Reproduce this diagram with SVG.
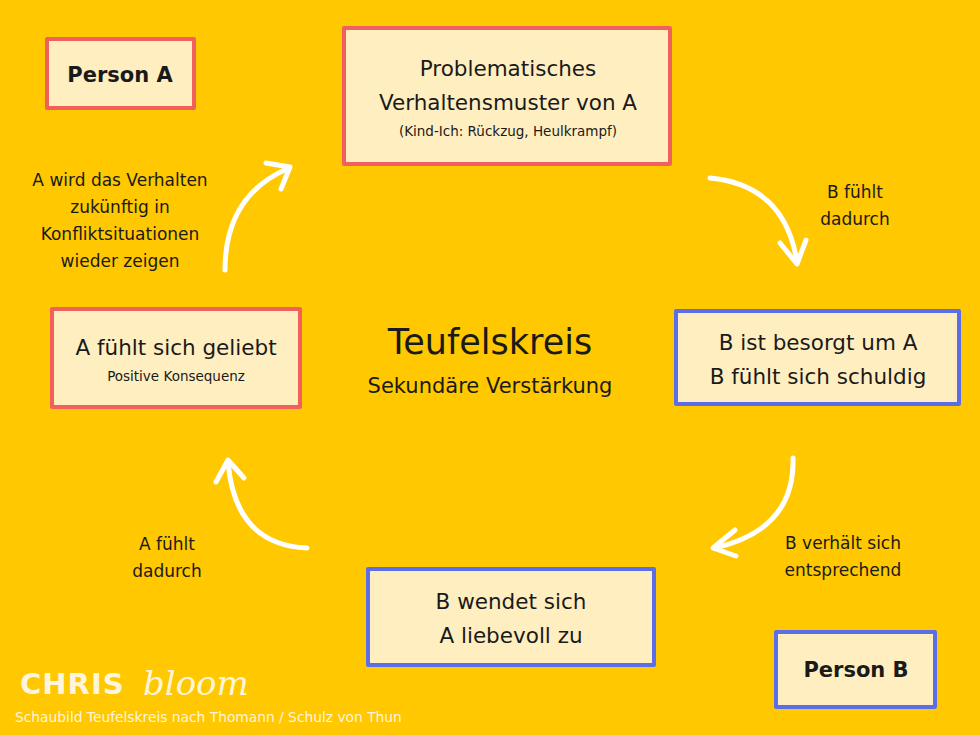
<svg xmlns="http://www.w3.org/2000/svg" width="980" height="735" viewBox="0 0 980 735">
<defs>
<style>
text{font-family:"DejaVu Sans","Liberation Sans",sans-serif;fill:#1a1a1a;text-anchor:middle}
.box{fill:#FFEEC0;stroke-width:4;stroke-linejoin:round}
.red{stroke:#F2605C}
.blue{stroke:#5B6EE8}
.t{font-size:21.5px}
.s{font-size:13.5px}
.l{font-size:17px}
.p{font-size:21px;font-weight:600}
.arr{fill:none;stroke:#fff;stroke-width:5;stroke-linecap:round;stroke-linejoin:round}
</style>
</defs>
<rect width="980" height="735" fill="#FFC800"/>
<g id="personA"><rect class="box red" x="47" y="39" width="147" height="69"/><text class="p" x="120" y="82">Person A</text></g>
<g id="problem"><rect class="box red" x="344" y="28" width="326" height="136"/><text class="t" x="508" y="76">Problematisches</text><text class="t" x="508" y="110">Verhaltensmuster von A</text><text class="s" x="508" y="136">(Kind-Ich: Rückzug, Heulkrampf)</text></g>
<g id="besorgt"><rect class="box blue" x="676" y="311" width="283" height="93"/><text class="t" x="818" y="350">B ist besorgt um A</text><text class="t" x="818" y="384">B fühlt sich schuldig</text></g>
<g id="geliebt"><rect class="box red" x="52" y="309" width="248" height="98"/><text class="t" x="176" y="355">A fühlt sich geliebt</text><text class="s" x="176" y="381">Positive Konsequenz</text></g>
<g id="wendet"><rect class="box blue" x="368" y="569" width="286" height="96"/><text class="t" x="511" y="609">B wendet sich</text><text class="t" x="511" y="643">A liebevoll zu</text></g>
<g id="personB"><rect class="box blue" x="776" y="632" width="159" height="75"/><text class="p" x="856" y="677">Person B</text></g>
<g id="center"><text x="490" y="354" style="font-size:35px">Teufelskreis</text><text x="490" y="393" style="font-size:21px">Sekundäre Verstärkung</text></g>
<g id="connectors">
<path class="arr" d="M710 178 Q785 185 797 262"/><path class="arr" d="M780 243 L797 264 L806 240"/>
<path class="arr" d="M793 458 Q795 530 714 548"/><path class="arr" d="M735 530 L713 548 L736 556"/>
<path class="arr" d="M307 548 Q235 545 228 462"/><path class="arr" d="M216 482 L228 460 L244 478"/>
<path class="arr" d="M225 270 Q225 195 289 168"/><path class="arr" d="M266 163 L290 167 L281 189"/>
</g>
<g id="labels">
<text class="l" x="855" y="198">B fühlt</text><text class="l" x="855" y="225">dadurch</text>
<text class="l" x="843" y="549">B verhält sich</text><text class="l" x="843" y="576">entsprechend</text>
<text class="l" x="167" y="550">A fühlt</text><text class="l" x="167" y="577">dadurch</text>
<text class="l" x="120" y="186">A wird das Verhalten</text><text class="l" x="120" y="213">zukünftig in</text><text class="l" x="120" y="240">Konfliktsituationen</text><text class="l" x="120" y="267">wieder zeigen</text>
</g>
<g id="logo"><text x="20" y="694" style="font-size:29px;font-weight:bold;fill:#FFF5DC;text-anchor:start;letter-spacing:1px">CHRIS</text><text x="143" y="695" style="font-family:'DejaVu Serif',serif;font-style:italic;font-size:34px;fill:#FFF5DC;text-anchor:start">bloom</text><text x="15" y="722" style="font-size:13.8px;fill:#FFF5DC;text-anchor:start">Schaubild Teufelskreis nach Thomann / Schulz von Thun</text></g>
</svg>
